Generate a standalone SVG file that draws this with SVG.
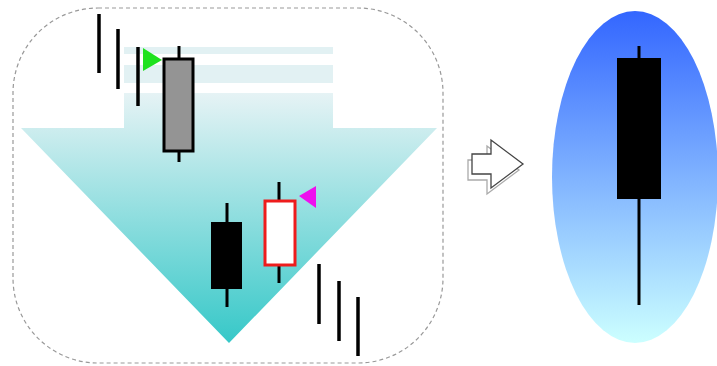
<svg xmlns="http://www.w3.org/2000/svg" width="717" height="366" viewBox="0 0 717 366">
<defs>
<linearGradient id="teal" x1="0" y1="0" x2="0" y2="1">
<stop offset="0" stop-color="#e6f3f5"/>
<stop offset="1" stop-color="#36c8c8"/>
</linearGradient>
<linearGradient id="blue" x1="0" y1="0" x2="0" y2="1">
<stop offset="0" stop-color="#3366ff"/>
<stop offset="1" stop-color="#ccffff"/>
</linearGradient>
<style>
.stick{stroke:#000;stroke-width:3.5;stroke-linecap:butt}
.wick{stroke:#000;stroke-width:3}
.stripe{fill:#e2f1f3}
</style>
</defs>
<rect width="717" height="366" fill="#fff"/>
<g id="frame">
<rect x="13" y="8" width="430" height="355" rx="85" ry="85" fill="none" stroke="#999" stroke-width="1.2" stroke-dasharray="4,3"/>
</g>
<g id="down-arrow">
<rect class="stripe" x="124" y="47" width="209" height="7"/>
<rect class="stripe" x="124" y="65" width="209" height="18"/>
<path d="M124,93 H333 V128 H437 L229,343 L21,128 H124 Z" fill="url(#teal)"/>
</g>
<g id="sticks-top">
<line class="stick" x1="99" y1="14" x2="99" y2="73"/>
<line class="stick" x1="118" y1="29" x2="118" y2="89"/>
<line class="stick" x1="138" y1="47" x2="138" y2="106"/>
</g>
<g id="green-marker">
<polygon points="143,48 162,60 143,71" fill="#1ee21e"/>
</g>
<g id="gray-candle">
<line class="wick" x1="179" y1="46" x2="179" y2="162"/>
<rect x="164" y="59" width="29" height="92" fill="#949494" stroke="#000" stroke-width="3"/>
</g>
<g id="black-candle">
<line class="wick" x1="227" y1="203" x2="227" y2="307"/>
<rect x="211" y="222" width="31" height="67" fill="#000"/>
</g>
<g id="red-candle">
<line class="wick" x1="279" y1="182" x2="279" y2="283"/>
<rect x="265" y="201" width="30" height="64" fill="#fff" stroke="#ee1c1c" stroke-width="3"/>
</g>
<g id="magenta-marker">
<polygon points="299,196 316,186 316,208" fill="#ee10ee"/>
</g>
<g id="sticks-bottom">
<line class="stick" x1="319" y1="264" x2="319" y2="324"/>
<line class="stick" x1="339" y1="281" x2="339" y2="341"/>
<line class="stick" x1="358" y1="297" x2="358" y2="356"/>
</g>
<g id="connectors">
<path d="M468,160 H487 V146 L519,170 L487,194 V180 H468 Z" fill="#fff" stroke="#aaa" stroke-width="1.3"/>
<path d="M472,154 H491 V140 L523,164 L491,188 V174 H472 Z" fill="#fff" stroke="#444" stroke-width="1.3"/>
</g>
<g id="result">
<ellipse cx="635" cy="177" rx="83" ry="166" fill="url(#blue)"/>
<line class="wick" x1="639" y1="46" x2="639" y2="305"/>
<rect x="617" y="58" width="44" height="141" fill="#000"/>
</g>
</svg>
